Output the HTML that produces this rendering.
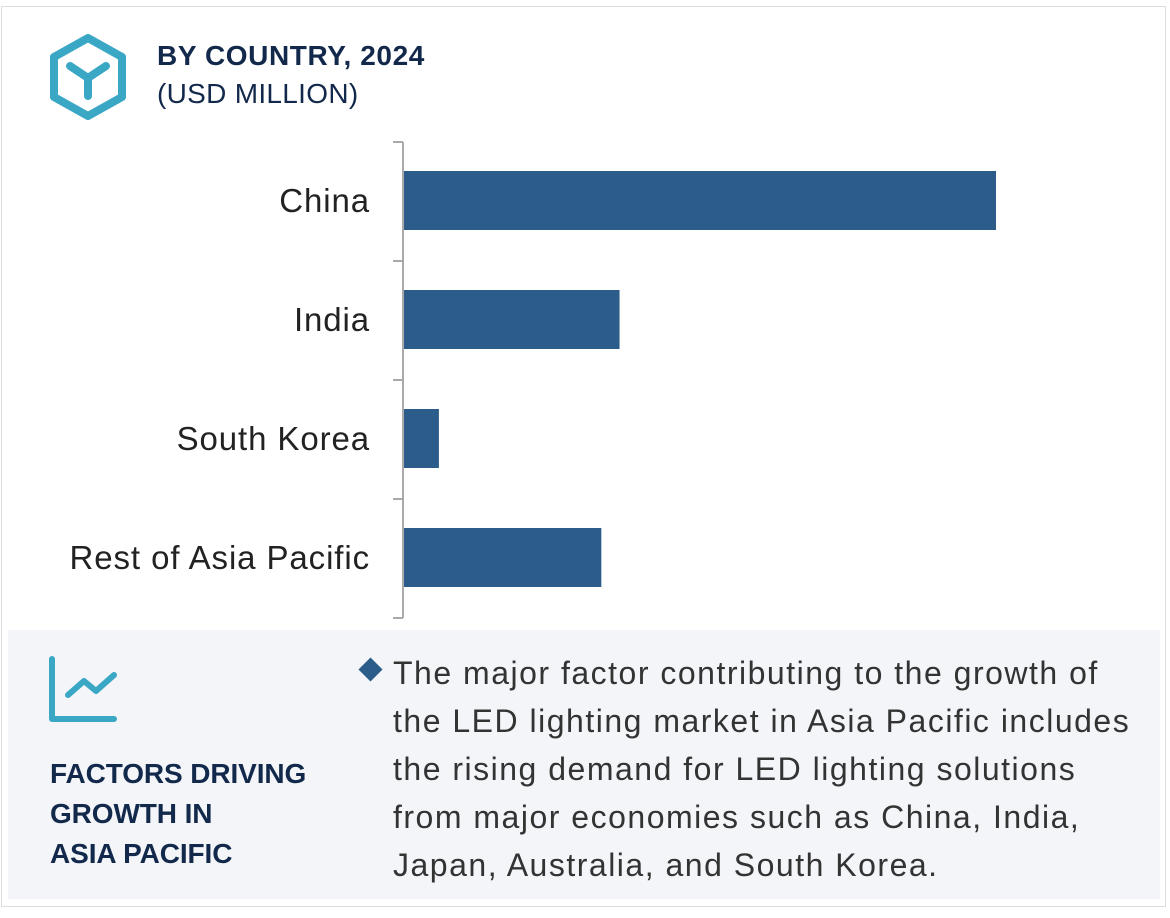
<!DOCTYPE html>
<html><head><meta charset="utf-8"><style>
body{margin:0;width:1170px;height:918px;background:#fff;font-family:"Liberation Sans",sans-serif;position:relative;overflow:hidden}
.frame{position:absolute;left:1px;top:6px;width:1165px;height:901px;border:1px solid #dcdde2;box-sizing:border-box}
.panel{position:absolute;left:8px;top:630px;width:1152px;height:269px;background:#f3f5f9}
.t1{position:absolute;left:157px;top:40px;font-size:28px;font-weight:bold;color:#13294b;letter-spacing:0.6px}
.t2{position:absolute;left:157px;top:78px;font-size:28px;color:#13294b;letter-spacing:0.3px}
.ft{position:absolute;left:50px;top:754px;font-size:28px;font-weight:bold;color:#13294b;line-height:40px;letter-spacing:-0.1px}
.para{position:absolute;left:393px;top:649px;width:770px;font-size:32px;line-height:48px;color:#333;letter-spacing:1.5px;white-space:nowrap}
.dia{position:absolute;left:362px;top:661px;width:17px;height:17px;background:#2c5c8a;transform:rotate(45deg)}
</style></head><body>
<div class="frame"></div>
<svg style="position:absolute;left:48px;top:34px" width="80" height="86" viewBox="0 0 80 86">
<polygon points="40,4 74,23 74,63 40,82 6,63 6,23" fill="none" stroke="#3aa7c4" stroke-width="8" stroke-linejoin="round"/>
<path d="M22,32 L40,44 L58,32 M40,44 L40,62" fill="none" stroke="#3aa7c4" stroke-width="8" stroke-linecap="round"/>
</svg>
<div class="t1">BY COUNTRY, 2024</div>
<div class="t2">(USD MILLION)</div>
<svg id="chart" style="position:absolute;left:0;top:0" width="1170" height="630"></svg>
<div class="panel"></div>
<svg style="position:absolute;left:48px;top:655px" width="72" height="70" viewBox="0 0 72 70">
<path d="M4,4 L4,64 L66,64" fill="none" stroke="#3aa7c4" stroke-width="6" stroke-linecap="round" stroke-linejoin="round"/>
<path d="M20,40 L36,26 L48,36 L66,20" fill="none" stroke="#3aa7c4" stroke-width="6" stroke-linecap="round" stroke-linejoin="round"/>
</svg>
<div class="ft">FACTORS DRIVING<br>GROWTH IN<br>ASIA PACIFIC</div>
<div class="dia"></div>
<div class="para">The major factor contributing to the growth of<br>the LED lighting market in Asia Pacific includes<br>the rising demand for LED lighting solutions<br>from major economies such as China, India,<br>Japan, Australia, and South Korea.</div>
<script>
const categories=["China","India","South Korea","Rest of Asia Pacific"];
const values=[3900,1420,230,1300];
const NS="http://www.w3.org/2000/svg";
const svg=document.getElementById('chart');
const x0=404,k=592/3900,top0=142,band=119;
const xs=v=>x0+v*k;
function el(t,a){const e=document.createElementNS(NS,t);for(const n in a)e.setAttribute(n,a[n]);svg.appendChild(e);return e;}
const ax=el('line',{x1:403,y1:top0,x2:403,y2:top0+band*categories.length,stroke:'#aaa','stroke-width':2});


for(let i=0;i<=categories.length;i++){
 const t=el('line',{x1:393,y1:top0+i*band,x2:403,y2:top0+i*band,stroke:'#aaa','stroke-width':2});
 
 
}
categories.forEach((c,i)=>{
 const y=top0+i*band+29;
 const r=el('rect',{x:x0,y:y,width:xs(values[i])-x0,height:59,fill:'#2c5c8a'});
 
 
 const tx=el('text',{x:370,y:y+41,'text-anchor':'end','font-size':33,'letter-spacing':'0.9',fill:'#222','font-family':'Liberation Sans, sans-serif'});
 tx.textContent=c;
 
 
});
</script>
</body></html>
